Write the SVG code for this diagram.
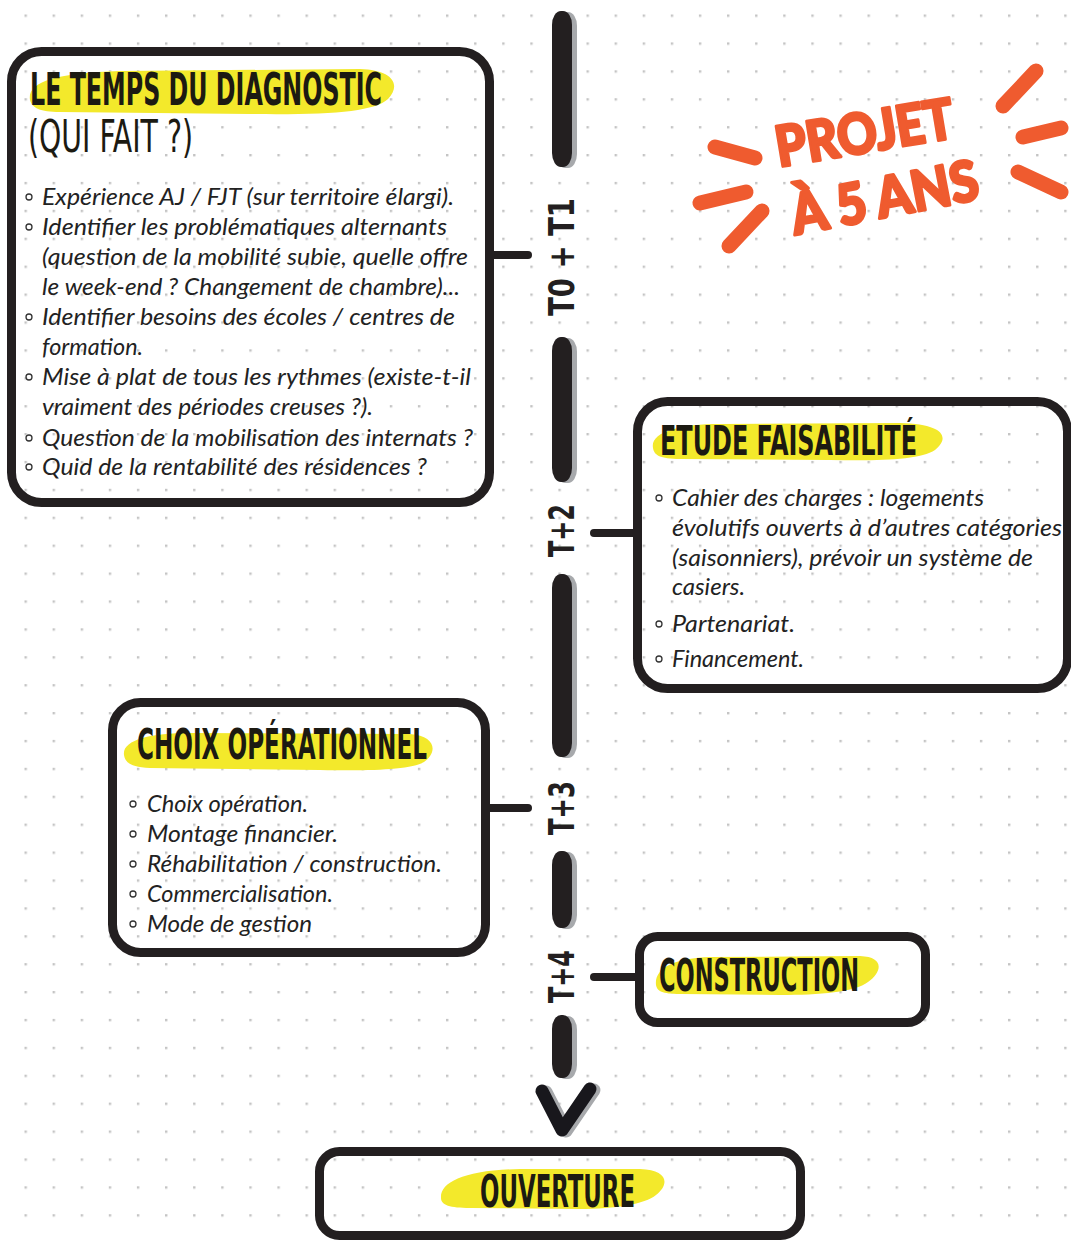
<svg xmlns="http://www.w3.org/2000/svg" width="1071" height="1240" viewBox="0 0 1071 1240">
<defs>
<pattern id="dots" x="24.5" y="14.5" width="28.1" height="27.9" patternUnits="userSpaceOnUse">
<rect x="0" y="0" width="2.4" height="2.4" fill="#c4c4c4"/>
</pattern>
<style>
.box{fill:none;stroke:#231f20;stroke-width:9}
.hl{fill:#f3e92b}
.title{font-family:'DejaVu Sans Condensed','DejaVu Sans',sans-serif;font-weight:bold;font-stretch:condensed;fill:#1c1a12}
.thin{font-family:'DejaVu Sans Condensed','DejaVu Sans',sans-serif;font-weight:normal;font-stretch:condensed;fill:#1c1a12}
.b{font-family:Lato,'Open Sans',sans-serif;font-style:italic;font-size:23px;fill:#222}
.bul{fill:none;stroke:#333;stroke-width:1.3}
.con{stroke:#231f20;stroke-width:8;stroke-linecap:round;fill:none}
.seg{fill:#231f20}
.sh{fill:#a7a9ac}
.lab{font-family:'DejaVu Sans Condensed','DejaVu Sans',sans-serif;font-weight:bold;font-stretch:condensed;font-size:36px;fill:#231f20}
.ray{stroke:#ef5b2f;stroke-width:15;stroke-linecap:round;fill:none}
.proj{font-family:Lato,'Open Sans',sans-serif;font-weight:900;fill:#ef5b2f;stroke:#ef5b2f;stroke-width:3;stroke-linejoin:round}
</style>
</defs>
<rect width="1071" height="1240" fill="#ffffff"/>
<rect width="1071" height="1240" fill="url(#dots)"/>

<g id="timeline">
<rect class="sh" x="556" y="12" width="21" height="156" rx="9" ry="14"/>
<rect class="seg" x="552" y="11" width="20" height="156" rx="9" ry="14"/>
<rect class="sh" x="556" y="338" width="21" height="145" rx="9" ry="14"/>
<rect class="seg" x="552" y="337" width="20" height="145" rx="9" ry="14"/>
<rect class="sh" x="556" y="575" width="21" height="183" rx="9" ry="14"/>
<rect class="seg" x="552" y="574" width="20" height="183" rx="9" ry="14"/>
<rect class="sh" x="556" y="852" width="21" height="77" rx="9" ry="14"/>
<rect class="seg" x="552" y="851" width="20" height="77" rx="9" ry="14"/>
<rect class="sh" x="556" y="1016" width="21" height="63" rx="9" ry="14"/>
<rect class="seg" x="552" y="1015" width="20" height="63" rx="9" ry="14"/>
<polyline points="546,1092 566,1131 594,1090" fill="none" stroke="#a7a9ac" stroke-width="13" stroke-linecap="round" stroke-linejoin="round"/>
<polyline points="542,1091 562,1130 590,1089" fill="none" stroke="#18171c" stroke-width="13" stroke-linecap="round" stroke-linejoin="round"/>
<text class="lab" transform="translate(574,316) rotate(-90)" textLength="118" lengthAdjust="spacingAndGlyphs">T0 + T1</text>
<text class="lab" transform="translate(574,557) rotate(-90)" textLength="53" lengthAdjust="spacingAndGlyphs">T+2</text>
<text class="lab" transform="translate(574,835) rotate(-90)" textLength="54" lengthAdjust="spacingAndGlyphs">T+3</text>
<text class="lab" transform="translate(574,1003) rotate(-90)" textLength="53" lengthAdjust="spacingAndGlyphs">T+4</text>
</g>

<g id="connectors">
<line class="con" x1="494" y1="255" x2="528" y2="255"/>
<line class="con" x1="594" y1="533" x2="636" y2="533"/>
<line class="con" x1="490" y1="808" x2="528" y2="808"/>
<line class="con" x1="594" y1="977" x2="636" y2="977"/>
</g>

<g id="diagnostic">
<rect class="box" x="11.5" y="51.5" width="478" height="451" rx="30"/>
<path class="hl" d="M30,100 C27,82 55,73 120,71 L360,69 C392,70 402,84 388,99 C374,112 330,115 250,114 L60,112 C40,112 32,108 30,100 Z"/>
<text class="title" x="30" y="105" font-size="44" textLength="352" lengthAdjust="spacingAndGlyphs">LE TEMPS DU DIAGNOSTIC</text>
<text class="thin" x="28" y="152" font-size="44" textLength="165" lengthAdjust="spacingAndGlyphs">(QUI FAIT ?)</text>
<circle class="bul" cx="29" cy="197" r="3"/>
<circle class="bul" cx="29" cy="227" r="3"/>
<circle class="bul" cx="29" cy="317" r="3"/>
<circle class="bul" cx="29" cy="377" r="3"/>
<circle class="bul" cx="29" cy="438" r="3"/>
<circle class="bul" cx="29" cy="467" r="3"/>
<text class="b" x="42" y="205" textLength="412" lengthAdjust="spacingAndGlyphs">Expérience AJ / FJT (sur territoire élargi).</text>
<text class="b" x="42" y="235" textLength="405" lengthAdjust="spacingAndGlyphs">Identifier les problématiques alternants</text>
<text class="b" x="42" y="265" textLength="426" lengthAdjust="spacingAndGlyphs">(question de la mobilité subie, quelle offre</text>
<text class="b" x="42" y="295" textLength="418" lengthAdjust="spacingAndGlyphs">le week-end ? Changement de chambre)...</text>
<text class="b" x="42" y="325" textLength="413" lengthAdjust="spacingAndGlyphs">Identifier besoins des écoles / centres de</text>
<text class="b" x="42" y="355" textLength="101" lengthAdjust="spacingAndGlyphs">formation.</text>
<text class="b" x="42" y="385" textLength="429" lengthAdjust="spacingAndGlyphs">Mise à plat de tous les rythmes (existe-t-il</text>
<text class="b" x="42" y="415" textLength="331" lengthAdjust="spacingAndGlyphs">vraiment des périodes creuses ?).</text>
<text class="b" x="42" y="446" textLength="431" lengthAdjust="spacingAndGlyphs">Question de la mobilisation des internats ?</text>
<text class="b" x="42" y="475" textLength="385" lengthAdjust="spacingAndGlyphs">Quid de la rentabilité des résidences ?</text>
</g>

<g id="projet">
<line class="ray" x1="715" y1="147" x2="755" y2="158"/>
<line class="ray" x1="700" y1="203" x2="746" y2="192"/>
<line class="ray" x1="729" y1="246" x2="762" y2="211"/>
<line class="ray" x1="1003" y1="106" x2="1036" y2="71"/>
<line class="ray" x1="1023" y1="137" x2="1061" y2="128"/>
<line class="ray" x1="1018" y1="172" x2="1061" y2="192"/>
<text class="proj" transform="translate(779,167) rotate(-9.5)" font-size="56" textLength="180" lengthAdjust="spacingAndGlyphs">PROJET</text>
<text class="proj" transform="translate(795,235) rotate(-11)" font-size="56" textLength="190" lengthAdjust="spacingAndGlyphs">À 5 ANS</text>
</g>

<g id="etude">
<rect class="box" x="637.5" y="401.5" width="430" height="287" rx="30"/>
<path class="hl" d="M653,448 C650,432 680,424 720,424 L900,423 C945,424 950,438 935,450 C920,460 880,461 830,460 L680,459 C660,459 654,455 653,448 Z"/>
<text class="title" x="660" y="455" font-size="40" textLength="257" lengthAdjust="spacingAndGlyphs">ETUDE  FAISABILITÉ</text>
<circle class="bul" cx="659" cy="498" r="3"/>
<circle class="bul" cx="659" cy="624" r="3"/>
<circle class="bul" cx="659" cy="659" r="3"/>
<text class="b" x="672" y="506" textLength="312" lengthAdjust="spacingAndGlyphs">Cahier des charges : logements</text>
<text class="b" x="672" y="536" textLength="390" lengthAdjust="spacingAndGlyphs">évolutifs ouverts à d’autres catégories</text>
<text class="b" x="672" y="566" textLength="361" lengthAdjust="spacingAndGlyphs">(saisonniers), prévoir un système de</text>
<text class="b" x="672" y="595" textLength="73" lengthAdjust="spacingAndGlyphs">casiers.</text>
<text class="b" x="672" y="632" textLength="123" lengthAdjust="spacingAndGlyphs">Partenariat.</text>
<text class="b" x="672" y="667" textLength="132" lengthAdjust="spacingAndGlyphs">Financement.</text>
</g>

<g id="choix">
<rect class="box" x="112.5" y="702.5" width="373" height="250" rx="28"/>
<path class="hl" d="M124,755 C122,740 150,733 190,733 L410,734 C436,736 438,752 424,762 C410,770 370,771 320,770 L150,768 C130,767 125,762 124,755 Z"/>
<text class="title" x="137" y="759" font-size="42" textLength="290" lengthAdjust="spacingAndGlyphs">CHOIX OPÉRATIONNEL</text>
<circle class="bul" cx="133" cy="804" r="3"/>
<circle class="bul" cx="133" cy="834" r="3"/>
<circle class="bul" cx="133" cy="864" r="3"/>
<circle class="bul" cx="133" cy="894" r="3"/>
<circle class="bul" cx="133" cy="924" r="3"/>
<text class="b" x="147" y="812" textLength="161" lengthAdjust="spacingAndGlyphs">Choix opération.</text>
<text class="b" x="147" y="842" textLength="191" lengthAdjust="spacingAndGlyphs">Montage financier.</text>
<text class="b" x="147" y="872" textLength="295" lengthAdjust="spacingAndGlyphs">Réhabilitation / construction.</text>
<text class="b" x="147" y="902" textLength="186" lengthAdjust="spacingAndGlyphs">Commercialisation.</text>
<text class="b" x="147" y="932" textLength="165" lengthAdjust="spacingAndGlyphs">Mode de gestion</text>
</g>

<g id="construction">
<rect class="box" x="639.5" y="936.5" width="286" height="86" rx="18"/>
<path class="hl" d="M656,985 C654,968 675,958 710,957 L860,956 C885,957 882,972 868,982 C855,992 820,995 780,995 L680,994 C662,994 657,991 656,985 Z"/>
<text class="title" x="659" y="991" font-size="44" textLength="200" lengthAdjust="spacingAndGlyphs">CONSTRUCTION</text>
</g>

<g id="ouverture">
<rect class="box" x="319.5" y="1151.5" width="481" height="84" rx="20"/>
<path class="hl" d="M441,1198 C440,1182 465,1170 520,1169 L640,1169 C668,1170 670,1184 656,1195 C645,1204 615,1209 580,1209 L470,1208 C450,1208 441,1205 441,1198 Z"/>
<text class="title" x="480" y="1207" font-size="44" textLength="155" lengthAdjust="spacingAndGlyphs">OUVERTURE</text>
</g>
</svg>
